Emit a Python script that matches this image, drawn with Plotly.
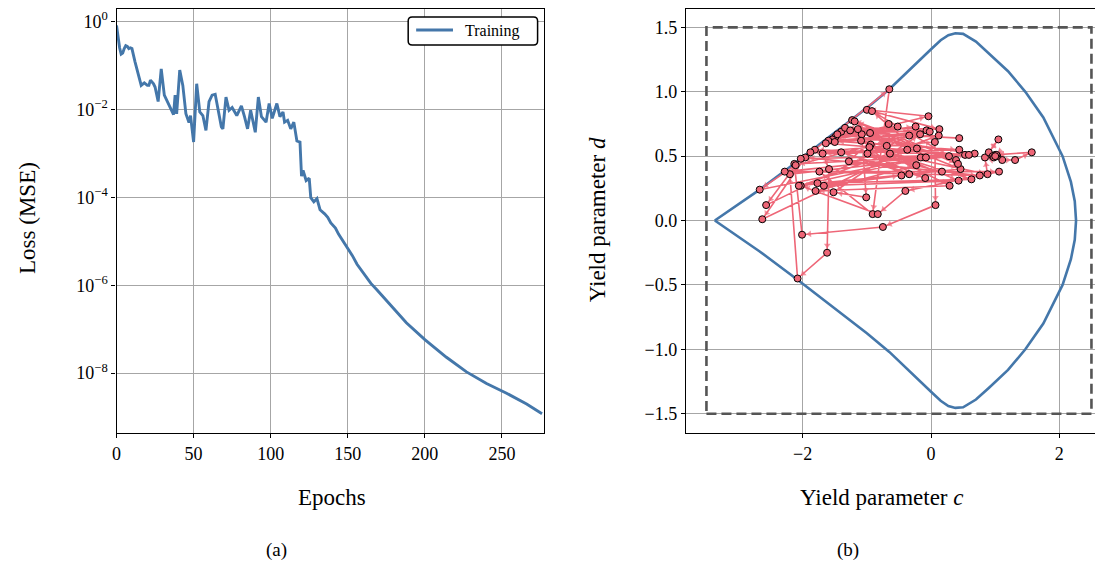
import plotly.graph_objects as go

# ---------------- data: (a) training loss ----------------
epochs = [0, 1, 2, 3, 4, 5, 6, 7, 8, 9, 10,
          12, 14, 16, 18, 20, 21, 22, 24, 25, 27,
          29, 31, 33, 35, 37, 38, 39, 41, 43, 45,
          47, 48, 50, 52, 54, 56, 58, 60, 62, 64,
          66, 68, 69, 71, 73, 75, 78, 81, 83, 85,
          87, 90, 92, 94, 97, 99, 101, 104, 106, 108,
          109, 111, 113, 115, 117, 119, 120, 121, 123, 125,
          126, 128, 130, 132, 135, 137, 139, 142, 144, 148,
          150, 153, 156, 160, 165, 169, 174, 181, 188, 200,
          214, 227, 240, 253, 266, 276]
loss = [8.1e-1, 4.0e-1, 2.5e-1, 1.8e-1, 1.9e-1, 2.4e-1, 2.8e-1, 2.7e-1, 2.4e-1, 2.5e-1, 2.4e-1,
        1.2e-1, 6.0e-2, 3.5e-2, 4.0e-2, 3.5e-2, 3.5e-2, 4.6e-2, 3.8e-2, 3.2e-2, 1.5e-2,
        8.3e-2, 2.1e-2, 1.5e-2, 1.1e-2, 7.6e-3, 2.1e-2, 7.9e-3, 7.8e-2, 3.5e-2, 7.9e-3,
        5.0e-3, 7.2e-3, 1.8e-3, 3.8e-2, 8.7e-3, 7.2e-3, 3.3e-3, 1.5e-2, 2.1e-2, 2.2e-2,
        9.5e-3, 4.0e-3, 3.6e-3, 1.9e-2, 9.5e-3, 1.1e-2, 7.2e-3, 1.2e-2, 6.8e-3, 3.6e-3,
        9.5e-3, 3.0e-3, 1.9e-2, 6.8e-3, 5.1e-3, 1.35e-2, 6.2e-3, 1.35e-2, 6.8e-3, 8.7e-3,
        5.1e-3, 5.6e-3, 3.6e-3, 5.1e-3, 1.9e-3, 1.8e-3, 3.0e-4, 4.1e-4, 2.4e-4, 2.7e-4,
        9.8e-5, 7.9e-5, 9.3e-5, 5.2e-5, 4.2e-5, 3.5e-5, 2.6e-5, 2.0e-5, 1.45e-5, 8.9e-6,
        6.8e-6, 4.7e-6, 3.0e-6, 1.9e-6, 1.1e-6, 7.8e-7, 4.9e-7, 2.6e-7, 1.4e-7, 5.8e-8,
        2.3e-8, 1.07e-8, 5.8e-9, 3.5e-9, 2.0e-9, 1.2e-9]
loss_tick_vals = [1e0, 1e-2, 1e-4, 1e-6, 1e-8]
loss_tick_text = ["10<sup>0</sup>", "10<sup>\u22122</sup>", "10<sup>\u22124</sup>",
                  "10<sup>\u22126</sup>", "10<sup>\u22128</sup>"]
epoch_ticks = [0, 50, 100, 150, 200, 250]
series_name = "Training"

# ---------------- data: (b) yield surface and trajectory ----------------
surf_c_upper = [-3.37, -3.0, -2.67, -2.08, -1.5, -1.0, -0.65, -0.3, 0.0, 0.15, 0.27, 0.38,
                0.5, 0.7, 0.9, 1.2, 1.47, 1.75, 2.05, 2.18, 2.24, 2.26]
surf_d_upper = [0.0, 0.125, 0.24, 0.46, 0.68, 0.875, 1.02, 1.19, 1.33, 1.40, 1.44, 1.455,
                1.45, 1.39, 1.30, 1.16, 1.0, 0.80, 0.5, 0.30, 0.15, 0.0]
bound_c = [-3.5, 2.5]
bound_d = [-1.5, 1.5]

traj_c = [0.44, -1.40, -0.52, -1.49, -0.24, -1.54, -0.04, -1.00, 0.13, -1.34,
          -1.08, -1.01, -1.52, -0.17, -1.60, 0.44, -1.69, -1.59, -1.62, -2.08,
          -2.20, 0.68, -1.46, -0.07, -1.64, 0.53, -1.81, -0.65, -0.91, -1.74,
          0.76, -1.96, -2.63, -0.37, -1.88, 0.06, 0.07, -0.75, -2.01, -2.13,
          0.59, -2.03, -2.57, -0.34, -2.11, -2.67, -0.16, -2.28, 1.06, -0.40,
          -0.83, -2.03, 0.12, -1.50, -0.02, -1.26, 0.39, -1.14, -0.22, -0.95,
          0.46, -2.06, -0.08, -0.92, 0.28, -1.23, 0.42, -1.19, -0.69, -1.09,
          0.29, -1.80, -0.23, -0.94, 0.43, -1.67, -0.46, -0.96, 0.63, -1.77,
          -0.34, -1.40, -0.09, -0.99, 0.17, -1.28, -0.66, -0.64, 0.88, 0.84,
          1.05, 0.90, 1.11, 1.31, 1.57, 1.00, 0.96, 1.03, 0.98, 1.02, 1.00]
traj_d = [0.64, 0.69, 0.73, 0.65, 0.73, 0.63, 0.81, 0.86, 0.71, 0.72,
          0.67, 0.18, 0.22, 0.67, 0.62, 0.55, 0.52, 0.40, -0.25, -0.45,
          0.36, 0.52, 0.67, 0.70, 0.60, 0.51, 0.55, 1.02, 0.05, 0.38,
          0.35, 0.49, 0.01, 0.55, 0.53, 0.61, 0.12, -0.05, -0.11, 0.44,
          0.51, 0.48, 0.12, 0.66, 0.43, 0.24, 0.49, 0.38, 0.38, 0.23,
          0.05, 0.27, 0.66, 0.61, 0.69, 0.70, 0.47, 0.71, 0.56, 0.68,
          0.40, 0.27, 0.49, 0.85, 0.50, 0.78, 0.44, 0.77, 0.58, 0.62,
          0.27, 0.23, 0.43, 0.59, 0.31, 0.27, 0.35, 0.57, 0.32, 0.29,
          0.36, 0.53, 0.33, 0.52, 0.38, 0.46, 0.75, 0.52, 0.36, 0.49,
          0.63, 0.53, 0.47, 0.47, 0.53, 0.51, 0.50, 0.50, 0.49, 0.51, 0.50]
assert len(traj_c) == len(traj_d)
assert len(epochs) == len(loss)

c_ticks = [-2, 0, 2]
c_tick_text = ["\u22122", "0", "2"]
d_ticks = [1.5, 1.0, 0.5, 0.0, -0.5, -1.0, -1.5]
d_tick_text = ["1.5", "1.0", "0.5", "0.0", "\u22120.5", "\u22121.0", "\u22121.5"]

# ---------------- styling ----------------
FONT = "Liberation Serif, Times New Roman, serif"
BLUE = "#4477AA"
RED = "#EE6677"
GRID = "#a6a6a6"
OX, OY = 8, 8            # default page body margin
W, H = 1103 - OX, 564 - OY


def fx(px):
    return min(1.0, max(0.0, (px - OX) / W))


def fy(py):
    return min(1.0, max(0.0, 1 - (py - OY) / H))


surf_c = surf_c_upper + surf_c_upper[::-1]
surf_d = surf_d_upper + [-v for v in surf_d_upper[::-1]]
box_c = [bound_c[0], bound_c[1], bound_c[1], bound_c[0], bound_c[0]]
box_d = [bound_d[0], bound_d[0], bound_d[1], bound_d[1], bound_d[0]]

fig = go.Figure()

fig.add_trace(go.Scatter(x=epochs, y=loss, mode="lines", name=series_name, showlegend=False,
                         line=dict(color=BLUE, width=2.9), xaxis="x", yaxis="y"))

fig.add_trace(go.Scatter(x=surf_c, y=surf_d, mode="lines", showlegend=False,
                         line=dict(color=BLUE, width=2.6), xaxis="x2", yaxis="y2"))
fig.add_trace(go.Scatter(x=box_c, y=box_d, mode="lines", showlegend=False,
                         line=dict(color="#555555", width=2.6, dash="10px,5px"),
                         xaxis="x2", yaxis="y2"))
fig.add_trace(go.Scatter(x=traj_c, y=traj_d, mode="lines", showlegend=False,
                         line=dict(color=RED, width=1.6), xaxis="x2", yaxis="y2"))
arrow_sizes = [0] + [6] * (len(traj_c) - 1)
fig.add_trace(go.Scatter(x=traj_c, y=traj_d, mode="markers", showlegend=False,
                         marker=dict(symbol="triangle-up", size=arrow_sizes, color=RED,
                                     angleref="previous", standoff=7.5,
                                     line=dict(width=0)),
                         xaxis="x2", yaxis="y2"))
fig.add_trace(go.Scatter(x=traj_c, y=traj_d, mode="markers", showlegend=False,
                         marker=dict(symbol="circle", size=7, color=RED,
                                     line=dict(color="black", width=1)),
                         xaxis="x2", yaxis="y2"))

axis_common = dict(showline=True, linecolor="black", linewidth=1.3, ticks="outside",
                   ticklen=4, tickwidth=1, tickcolor="black", showgrid=True,
                   gridcolor=GRID, gridwidth=1, zeroline=False,
                   tickfont=dict(family=FONT, size=18, color="black"))

fig.update_layout(
    width=W, height=H, autosize=False,
    margin=dict(l=0, r=0, t=0, b=0),
    paper_bgcolor="white", plot_bgcolor="white",
    font=dict(family=FONT, color="black"),
    xaxis=dict(domain=[fx(112), fx(541)], range=[0, 277], tickvals=epoch_ticks,
               mirror=True, anchor="y", **axis_common),
    yaxis=dict(domain=[fy(433), fy(9)], type="log", range=[-9.36, 0.28],
               tickvals=loss_tick_vals, ticktext=loss_tick_text, mirror=True,
               anchor="x", **axis_common),
    xaxis2=dict(domain=[fx(684), 1.0], range=[-3.82, 2.68], tickvals=c_ticks,
                ticktext=c_tick_text, mirror=True, anchor="y2", **axis_common),
    yaxis2=dict(domain=[fy(433), fy(9)], range=[-1.65, 1.643], tickvals=d_ticks,
                ticktext=d_tick_text, mirror=False, anchor="x2", **axis_common),
    showlegend=False,
)

# legend box (rounded) with line sample and label, drawn in paper coordinates
lx0, lx1, ly0, ly1 = fx(405), fx(535), fy(45), fy(17)
rx, ry = 4 / W, 4 / H
legend_path = (f"M {lx0 + rx},{ly0} L {lx1 - rx},{ly0} Q {lx1},{ly0} {lx1},{ly0 + ry} "
               f"L {lx1},{ly1 - ry} Q {lx1},{ly1} {lx1 - rx},{ly1} "
               f"L {lx0 + rx},{ly1} Q {lx0},{ly1} {lx0},{ly1 - ry} "
               f"L {lx0},{ly0 + ry} Q {lx0},{ly0} {lx0 + rx},{ly0} Z")
fig.add_shape(type="path", path=legend_path, xref="paper", yref="paper",
              line=dict(color="black", width=1.5), fillcolor="white", layer="above")
fig.add_shape(type="line", x0=fx(413), x1=fx(450), y0=fy(30), y1=fy(30),
              xref="paper", yref="paper", line=dict(color=BLUE, width=2.8), layer="above")
fig.add_annotation(text=series_name, x=fx(460), y=fy(31), xref="paper", yref="paper",
                   showarrow=False, xanchor="left", yanchor="middle",
                   font=dict(family=FONT, size=16, color="black"))


def label(text, px, py, size, angle=0):
    fig.add_annotation(text=text, x=fx(px), y=fy(py), xref="paper", yref="paper",
                       showarrow=False, xanchor="center", yanchor="middle",
                       textangle=angle, font=dict(family=FONT, size=size, color="black"))


label("Epochs", 328, 497, 23)
label("Loss (MSE)", 22, 218, 23, -90)
label("Yield parameter <i>c</i>", 880, 497, 23)
label("Yield parameter <i>d</i>", 595, 220, 23, -90)
label("(a)", 273, 550, 19)
label("(b)", 847, 550, 19)

fig.write_html("out.html")
